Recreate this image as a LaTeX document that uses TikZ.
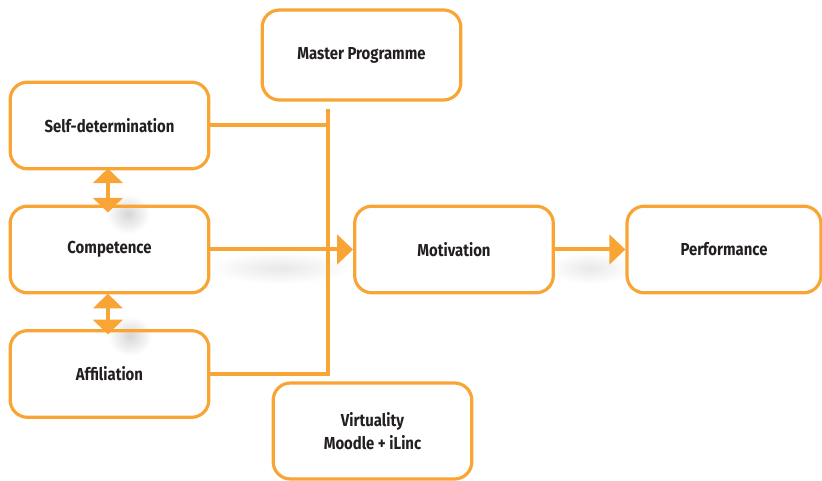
\documentclass[tikz,border=0pt]{standalone}
\usepackage{fontspec}
\setmainfont{Fira Sans}[FakeStretch=0.86]
\usetikzlibrary{arrows.meta}
\definecolor{orng}{HTML}{F8A535}
\definecolor{ink}{HTML}{231F20}

\begin{document}
\begin{tikzpicture}[x=0.75pt,y=-0.75pt,
  box/.style={draw=orng, line width=2.4pt, rounded corners=13pt,
    minimum width=149pt, minimum height=65pt, align=center,
    font=\bfseries\fontsize{13}{17}\selectfont, text=ink},
  link/.style={draw=orng, line width=3pt},
  tipped/.style={link, -{Triangle[length=12pt,width=22pt]}},
  dbl/.style={link, {Triangle[length=11pt,width=22pt]}-{Triangle[length=11pt,width=22pt]}},
  soft/.style={inner color=black!16, outer color=white}]
\useasboundingbox (0,0) rectangle (822,481);

% soft shadows behind the connectors
\shade[soft] (128,214) ellipse (22 and 20);
\shade[soft] (130,336) ellipse (22 and 20);
\shade[inner color=black!9, outer color=white] (280,268) ellipse (72 and 16);
\shade[inner color=black!9, outer color=white] (590,268) ellipse (40 and 16);

% boxes
\node[box, minimum height=67.5pt] (master) at (361.5,55) {Master Programme};
\node[box] (self) at (109.5,125.5) {Self-determination};
\node[box] (comp) at (109.5,249.5) {Competence};
\node[box] (aff) at (109.5,374) {Affiliation};
\node[box] (mot) at (454,249.5) {Motivation};
\node[box, minimum width=145.5pt] (perf) at (724,249.5) {Performance};
\node[box, minimum height=72pt] (virt) at (372.5,431) {Virtuality\\Moodle + iLinc};

% trunk collecting the three needs
\coordinate (trunktop) at (328,109);
\draw[link] (self.east) -- (self.east -| trunktop);
\draw[link] (aff.east) -- (aff.east -| trunktop) -- (trunktop);
\draw[tipped] (comp.east) -- (mot.west);
\draw[tipped] (mot.east) -- (perf.west);

% links between the needs
\draw[dbl] ([xshift=-1.2pt,yshift=1.5pt]self.south) -- ([xshift=-1.2pt,yshift=-6pt]comp.north);
\draw[dbl] ([xshift=-1.2pt,yshift=0.5pt]comp.south) -- ([xshift=-1.2pt,yshift=-4pt]aff.north);
\end{tikzpicture}
\end{document}
